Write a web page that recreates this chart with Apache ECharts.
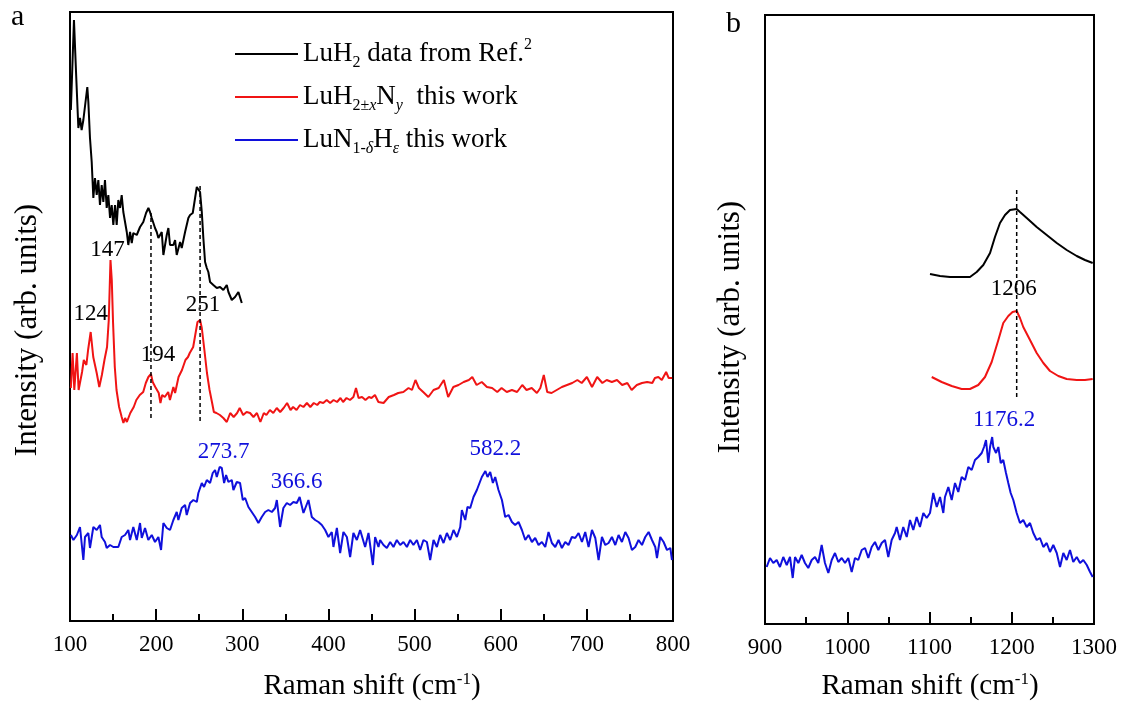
<!DOCTYPE html>
<html>
<head>
<meta charset="utf-8">
<script src="https://cdn.jsdelivr.net/npm/echarts@6/dist/echarts.min.js"></script>
<style>
  html, body { margin: 0; padding: 0; background: #fff; }
  #chart { width: 1126px; height: 706px; }
</style>
</head>
<body>
<div id="chart"></div>
<script>
// Raman spectra, [shift (cm^-1), intensity (arb. units, curves offset vertically)]

// Panel a: 100-800 cm^-1
const luh2RefLow = [[101,511],[104.6,601],[107,549],[109.7,493],[111.6,503],[113.5,491],[115.5,501],[117.4,499],[120.1,534],[121.3,519],[123.2,483],[125.2,459],[127.1,423],[129,443],[131,426],[132.9,441],[134.8,416],[136.8,436],[138.7,419],[140.6,441],[142.6,413],[144.5,426],[146.5,403],[148.4,416],[150.3,396],[152.3,416],[154.2,396],[156.1,421],[158.1,413],[160,426],[161.9,409],[165.9,389],[167.7,376],[169.7,389],[171.7,378],[173.5,388],[177.5,386],[181.3,394],[185.1,399],[188.3,408],[191,413],[192.9,409],[194.9,403],[198.7,393],[200.7,389],[202.6,383],[206.5,389],[208.4,366],[212.3,386],[214.2,393],[216.1,376],[220,376],[222,381],[223.9,366],[227.8,379],[229.7,373],[233.6,389],[237.4,403],[239.4,406],[242.5,408],[245.2,423],[247.2,434],[249,436],[251,429],[253,409],[254.8,383],[256.8,359],[258.8,353],[260.6,349],[262.6,339],[266.4,336],[270.4,333],[274.2,334],[278,331],[282,336],[283.9,329],[287.8,321],[291.6,324],[295.5,329],[299.4,318]];

const luhnLow = [[101,233],[103,268],[105,231],[108,268],[110,231],[114,249],[116,261],[119,256],[121,271],[124,289],[127,264],[131,248],[134,234],[137,246],[140,261],[143,274],[145,301],[147,361],[148.5,341],[150,298],[152,254],[154,231],[157,214],[160,204],[162,198],[164,203],[166,199],[170,208],[174,214],[177,221],[181,226],[185,229],[188,238],[191,244],[194,247],[196,239],[199,234],[203,228],[205,218],[207,226],[210,224],[214,229],[216,221],[220,234],[222,228],[226,244],[230,251],[234,261],[237,264],[239,268],[243,274],[245,284],[248,299],[251,301],[253,293],[256,271],[259,248],[262,231],[265,218],[267,209],[270,208],[274,206],[278,203],[282,199],[286,208],[290,204],[294,208],[297,213],[301,206],[305,209],[309,208],[313,204],[317,208],[321,199],[325,208],[328,206],[332,211],[336,208],[340,213],[344,209],[348,213],[352,218],[356,211],[359,214],[363,211],[367,216],[371,214],[375,218],[379,214],[383,218],[387,216],[390,219],[394,218],[398,221],[402,218],[406,221],[410,219],[414,223],[417,219],[421,223],[425,221],[429,224],[432,233],[435,223],[439,224],[443,221],[447,224],[450,223],[454,226],[458,219],[464,218],[470,224],[476,226],[481,228],[487,229],[493,233],[497,231],[501,241],[505,233],[510,229],[516,224],[522,231],[528,233],[534,241],[539,224],[545,234],[551,236],[557,239],[563,241],[567,244],[572,236],[578,239],[584,234],[590,233],[596,229],[601,233],[607,229],[613,231],[619,229],[625,236],[630,231],[636,233],[642,228],[646,233],[650,246],[654,229],[659,228],[665,231],[671,234],[677,236],[683,238],[689,241],[694,238],[700,244],[706,234],[712,244],[718,238],[723,241],[729,239],[735,241],[741,236],[747,238],[752,231],[758,236],[764,238],[770,239],[776,238],[779,243],[783,244],[787,241],[792,249],[795,243],[799,243]];

const lunhLow = [[101,86],[104,81],[108,86],[111.6,94],[115.5,61],[117.4,84],[121.3,88],[123.2,73],[127.1,94],[131,91],[134.8,96],[136.8,84],[140.6,79],[142.6,73],[146.5,76],[150.3,74],[156.1,74],[160,84],[163.9,86],[167.7,91],[169.7,81],[173.5,94],[177.5,81],[181.3,98],[183.3,83],[187.1,93],[190.9,81],[194.9,86],[198.7,79],[202.6,84],[205.7,71],[208.4,98],[212.3,93],[216.1,91],[220,101],[223.9,109],[225.8,101],[229.7,113],[233.6,116],[235.5,106],[239.4,118],[243.2,121],[247.2,119],[249,128],[253,138],[255.6,134],[258.8,141],[262.6,138],[265.7,148],[268.4,151],[270.4,144],[273.7,154],[276.2,153],[278.9,138],[281.2,146],[283.9,139],[287.8,141],[289.7,131],[293.6,139],[297.4,138],[300.6,121],[303.3,123],[307.1,114],[311,109],[314.9,104],[318.7,98],[322.6,104],[326.5,109],[330.3,111],[334.3,109],[338.1,113],[340.1,121],[343.9,94],[347.7,113],[351.7,118],[355.5,116],[359.3,119],[363.3,118],[366.6,124],[371,108],[376.8,121],[380.7,104],[384.6,101],[388.4,99],[392.3,96],[396.2,91],[400,84],[403.9,89],[405.8,74],[409.8,93],[413.6,68],[417.4,89],[421.4,84],[425.2,64],[429,88],[433,81],[436.8,91],[442.6,74],[446.5,88],[451.6,56],[454.2,84],[458.1,74],[460,81],[463.9,76],[467.8,73],[471.7,79],[475.5,74],[479.4,81],[483.3,76],[487.1,79],[491.1,74],[494.9,81],[498.7,76],[502.7,81],[506.5,71],[510.3,81],[514.3,79],[518.1,61],[522,81],[525.9,74],[529.7,86],[533.6,78],[537.5,88],[541.3,81],[545.2,91],[549.1,84],[553,94],[554.9,111],[558.8,101],[561.4,114],[564.6,113],[568.4,124],[572.3,131],[575.4,138],[578.1,144],[582.2,150],[584.7,144],[587.8,149],[590.9,138],[593.6,144],[597.4,131],[601.4,121],[605.2,104],[609.1,106],[613,99],[616.8,96],[620.7,99],[624.6,91],[628.5,81],[632.3,86],[636.2,79],[640,83],[643.9,76],[647.8,79],[651.7,74],[655.5,89],[659.4,78],[663.3,74],[667.1,81],[671,73],[674.9,79],[678.7,76],[682.6,84],[686.5,83],[690.4,88],[694.3,79],[698.1,89],[702,74],[705.9,91],[709.8,83],[713.6,61],[717.5,84],[721.4,76],[725.2,78],[729.1,84],[733,76],[736.8,86],[740.7,79],[744.6,89],[748.4,83],[752.3,71],[756.2,74],[760,81],[764,76],[767.8,84],[771.7,89],[775.6,81],[779.4,74],[781.4,63],[785.2,84],[789.1,79],[793,71],[796.9,73],[798.8,61]];

// Panel b: 900-1300 cm^-1
const luh2RefHigh = [[1100.6,350],[1112.8,348],[1124.9,347],[1137.1,347],[1149.2,347],[1157.4,352],[1165.4,359],[1173.6,371],[1179.6,387],[1185.7,401],[1191.8,409],[1197.9,414],[1206,415],[1210,412],[1218.2,406],[1230.3,397],[1242.5,389],[1254.7,381],[1266.8,374],[1279,368],[1289,364],[1298.4,361]];

const luhnHigh = [[1102.7,247],[1114.8,242],[1127,238],[1139.1,235],[1149.2,235],[1159.3,239],[1167.5,247],[1175.6,262],[1183.7,284],[1189.7,301],[1195.8,308],[1201,312],[1206,313],[1210,306],[1214,297],[1222.2,284],[1230.3,271],[1238.4,261],[1246.5,253],[1256.6,248],[1266.8,245],[1279,244],[1289,244],[1298.4,245]];

const lunhHigh = [[902,57],[906.1,66],[910.1,61],[914.2,64],[918.2,57],[922.2,67],[926.4,59],[930.4,67],[933.7,46],[936.5,67],[940.5,61],[944.6,69],[948.6,61],[952.6,56],[956.8,64],[960.8,67],[964.8,61],[968.9,79],[972.9,61],[977,51],[981.1,64],[985.1,71],[989.1,62],[993.3,66],[997.3,61],[1001.3,66],[1005.4,52],[1009.4,66],[1013.4,64],[1017.6,74],[1021.6,76],[1025.6,66],[1029.7,77],[1033.7,82],[1037.8,74],[1041.9,81],[1045.9,84],[1049.9,67],[1054,84],[1058.1,91],[1060.1,97],[1064.1,84],[1068.1,97],[1072.3,87],[1076.3,104],[1080.3,94],[1084.4,107],[1088.4,97],[1092.5,111],[1096.6,106],[1100.6,111],[1104.6,131],[1108.8,117],[1112.8,127],[1116.8,111],[1118.8,127],[1122.9,137],[1127,124],[1131,141],[1135,132],[1139.1,147],[1143.2,144],[1147.2,157],[1151.3,154],[1155.3,164],[1159.3,167],[1163.5,171],[1166.3,177],[1168.7,184],[1171.5,161],[1173.6,177],[1176.2,187],[1177.6,177],[1180.9,171],[1183.7,177],[1186.6,161],[1189.7,164],[1193,151],[1195.8,141],[1198.7,131],[1201.9,124],[1206,111],[1210,101],[1214,104],[1218.2,97],[1222.2,101],[1226.2,91],[1230.3,84],[1234.3,86],[1238.4,77],[1242.5,81],[1246.5,72],[1250.5,79],[1254.7,71],[1258.7,57],[1262.7,71],[1266.8,64],[1270.8,74],[1274.8,62],[1279,67],[1283,61],[1287,64],[1291.2,59],[1295.2,52],[1298.4,47]];

// Dashed guides: [shift, lower intensity, upper intensity]
const guidesLow = [[194, 203, 408], [251, 200, 435]];
const guidesHigh = [[1206, 227, 437]];

// Peak annotations: [text, shift, curve key]
const peakLabelsLow = [['124', 124, 'luhn'], ['147', 147, 'luhn'], ['194', 194, 'luhn'], ['251', 251, 'luhn'],
                       ['273.7', 273.7, 'lunh'], ['366.6', 366.6, 'lunh'], ['582.2', 582.2, 'lunh']];
const peakLabelsHigh = [['1206', 1206, 'luhn'], ['1176.2', 1176.2, 'lunh']];

const seriesNames = {
  ref: 'LuH2 data from Ref.2',
  luhn: 'LuH2±xNy  this work',
  lunh: 'LuN1-δHε this work'
};

// ---- styling ----
const FONT = 'Liberation Serif';
const COLORS = { ref: '#000000', luhn: '#f01414', lunh: '#1010dc' };
const LABEL_OFFSETS = {
  '124': [0, -18], '147': [-3, -10], '194': [7, -19], '251': [3, -15],
  '273.7': [4, -15], '366.6': [-3, -15], '582.2': [10, -22],
  '1206': [-3, -22], '1176.2': [12, -17]
};

function valueAt(data, x) {
  let best = data[0];
  for (const p of data) if (Math.abs(p[0] - x) < Math.abs(best[0] - x)) best = p;
  return best[1];
}

const curvesLow = { ref: luh2RefLow, luhn: luhnLow, lunh: lunhLow };
const curvesHigh = { ref: luh2RefHigh, luhn: luhnHigh, lunh: lunhHigh };

function curveSeries(key, data, idx, suffix) {
  return {
    type: 'line', name: suffix ? seriesNames[key] + suffix : seriesNames[key],
    xAxisIndex: idx, yAxisIndex: idx, data: data,
    showSymbol: false, symbol: 'none', silent: true,
    lineStyle: { color: COLORS[key], width: 2 },
    itemStyle: { color: COLORS[key] }
  };
}

function guideSeries(guides, idx) {
  return guides.map(g => ({
    type: 'line', xAxisIndex: idx, yAxisIndex: idx, silent: true,
    data: [[g[0], g[1]], [g[0], g[2]]], showSymbol: false, symbol: 'none',
    lineStyle: { color: '#000', width: 1.5, type: [4, 3] }
  }));
}

function labelSeries(labels, curves, idx) {
  return {
    type: 'scatter', xAxisIndex: idx, yAxisIndex: idx, silent: true,
    symbol: 'circle', symbolSize: 0, itemStyle: { color: '#000', opacity: 1 },
    data: labels.map(l => ({
      name: l[0],
      value: [l[1], valueAt(curves[l[2]], l[1])],
      label: {
        show: true, position: 'inside', formatter: l[0],
        offset: LABEL_OFFSETS[l[0]],
        color: l[2] === 'lunh' ? COLORS.lunh : '#000',
        textBorderWidth: 0, opacity: 1,
        fontFamily: FONT, fontSize: 23
      }
    }))
  };
}

const axisCommon = {
  type: 'value',
  axisLine: { show: true, onZero: false, lineStyle: { color: '#000', width: 2 } },
  splitLine: { show: false }
};

function xAxis(idx, min, max) {
  return Object.assign({}, axisCommon, {
    gridIndex: idx, min: min, max: max, interval: 100,
    axisTick: { show: true, inside: true, length: 12, lineStyle: { color: '#000', width: 2 } },
    minorTick: { show: true, splitNumber: 2, length: 7, lineStyle: { color: '#000', width: 2 } },
    axisLabel: { color: '#000', fontFamily: FONT, fontSize: 23, margin: 12, formatter: v => String(v) }
  });
}
function yAxis(idx) {
  return Object.assign({}, axisCommon, {
    gridIndex: idx, min: 0, max: 609,
    axisTick: { show: false }, axisLabel: { show: false }
  });
}

const richStyles = {
  sub: { fontFamily: FONT, fontSize: 16, verticalAlign: 'bottom', lineHeight: 16, color: '#000' },
  subi: { fontFamily: FONT, fontSize: 16, fontStyle: 'italic', verticalAlign: 'bottom', lineHeight: 16, color: '#000' },
  sup: { fontFamily: FONT, fontSize: 16, verticalAlign: 'top', lineHeight: 16, color: '#000' }
};

const legendText = {};
legendText[seriesNames.ref] = 'LuH{sub|2} data from Ref.{sup|2}';
legendText[seriesNames.luhn] = 'LuH{sub|2±}{subi|x}N{subi|y}  this work';
legendText[seriesNames.lunh] = 'LuN{sub|1-}{subi|δ}H{subi|ε} this work';

const supTitle = { sup: { fontFamily: FONT, fontSize: 17, verticalAlign: 'top', lineHeight: 17, fill: '#000' } };

const option = {
  animation: false,
  backgroundColor: '#fff',
  grid: [
    { left: 70, top: 12, width: 603, height: 609, show: true, borderColor: '#000', borderWidth: 2, backgroundColor: 'transparent' },
    { left: 765, top: 15, width: 329, height: 609, show: true, borderColor: '#000', borderWidth: 2, backgroundColor: 'transparent' }
  ],
  xAxis: [xAxis(0, 100, 800), xAxis(1, 900, 1300)],
  yAxis: [yAxis(0), yAxis(1)],
  legend: {
    orient: 'vertical', left: 235, top: 37, padding: 0,
    itemWidth: 63, itemHeight: 2, itemGap: 9, icon: 'rect',
    data: [seriesNames.ref, seriesNames.luhn, seriesNames.lunh],
    formatter: name => legendText[name],
    textStyle: { fontFamily: FONT, fontSize: 27, color: '#000', lineHeight: 34, rich: richStyles },
    selectedMode: false
  },
  graphic: [
    { type: 'text', left: 11, top: 2, style: { text: 'a', fontFamily: FONT, fontSize: 30, fill: '#000' } },
    { type: 'text', left: 726, top: 9, style: { text: 'b', fontFamily: FONT, fontSize: 30, fill: '#000' } },
    { type: 'text', x: 28, y: 330, rotation: Math.PI / 2,
      style: { text: 'Intensity (arb. units)', fontFamily: FONT, fontSize: 31, fill: '#000', align: 'center', verticalAlign: 'middle' } },
    { type: 'text', x: 731, y: 327, rotation: Math.PI / 2,
      style: { text: 'Intensity (arb. units)', fontFamily: FONT, fontSize: 31, fill: '#000', align: 'center', verticalAlign: 'middle' } },
    { type: 'text', x: 372, y: 686,
      style: { text: 'Raman shift (cm{sup|-1})', fontFamily: FONT, fontSize: 29, fill: '#000', align: 'center', verticalAlign: 'middle', rich: supTitle } },
    { type: 'text', x: 930, y: 686,
      style: { text: 'Raman shift (cm{sup|-1})', fontFamily: FONT, fontSize: 29, fill: '#000', align: 'center', verticalAlign: 'middle', rich: supTitle } }
  ],
  series: [
    curveSeries('ref', luh2RefLow, 0),
    curveSeries('luhn', luhnLow, 0),
    curveSeries('lunh', lunhLow, 0),
    curveSeries('ref', luh2RefHigh, 1, ' (b)'),
    curveSeries('luhn', luhnHigh, 1, ' (b)'),
    curveSeries('lunh', lunhHigh, 1, ' (b)'),
    ...guideSeries(guidesLow, 0),
    ...guideSeries(guidesHigh, 1),
    labelSeries(peakLabelsLow, curvesLow, 0),
    labelSeries(peakLabelsHigh, curvesHigh, 1)
  ]
};

const chart = echarts.init(document.getElementById('chart'), null, { renderer: 'canvas' });
chart.setOption(option);
</script>
</body>
</html>
